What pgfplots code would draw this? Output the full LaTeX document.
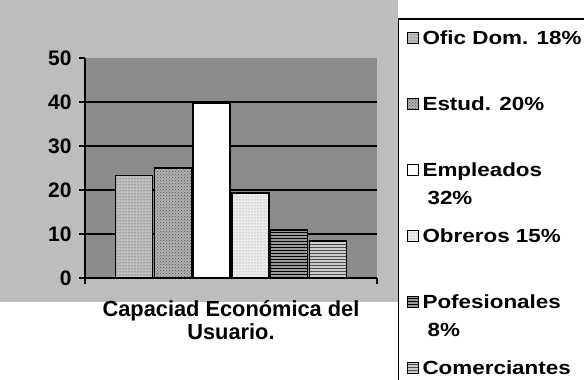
\documentclass[border=0pt]{standalone}
\usepackage{fontspec}
\setmainfont{Liberation Sans}
\newfontfamily\legfont[FakeStretch=1.18]{Liberation Sans}
\usepackage{pgfplots}
\pgfplotsset{compat=1.18}
\usetikzlibrary{patterns}

\begin{document}
\begin{tikzpicture}
\path[use as bounding box] (0,0) rectangle (584pt,380pt);
\fill[black!26] (0,78pt) rectangle (398pt,380pt);
\begin{axis}[
  at={(85pt,102pt)}, anchor=south west,
  scale only axis, width=292pt, height=220pt,
  xmin=-1, xmax=1, ymin=0, ymax=50,
  ybar=1.8pt, bar width=37pt,
  axis x line=bottom, axis y line=left,
  axis line style={-, line width=1.5pt, black},
  ytick={0,10,...,50},
  xtick={-1,1}, xticklabels={},
  tick align=outside, major tick length=6pt,
  tick style={line width=1.5pt, black},
  extra y ticks={10,20,30,40}, extra y tick labels={},
  extra y tick style={grid=major, major tick length=0pt},
  grid style={line width=1.5pt, black},
  axis background/.style={fill=black!45},
  /pgf/number format/assume math mode=true,
  yticklabel style={font=\bfseries\fontsize{21}{21}\selectfont, xshift=-4pt},
  xlabel={\begin{tabular}[t]{@{}c@{}}Capaciad Económica del\\Usuario.\end{tabular}},
  xlabel style={at={(axis description cs:0.5,0)}, anchor=base, yshift=-39pt, inner sep=0pt, font=\bfseries\fontsize{21.8}{21.7}\selectfont},
  legend style={at={(1.0719,1.1818)}, anchor=north west, draw=black, line width=1.5pt, fill=white,
    inner xsep=8pt, inner ysep=12pt, row sep=48pt, column sep=4pt,
    font=\legfont\bfseries\fontsize{19}{28}\selectfont,
    nodes={inner sep=0pt, text height=14pt, text depth=4pt, anchor=base west}},
  legend cell align=left,
  legend image code/.code={\draw[#1, line width=0.8pt] (0pt,1pt) rectangle (11pt,12pt);},
]
\addplot[draw=black, line width=1.5pt, fill=black!25, postaction={pattern=dots, pattern color=black!80}] coordinates {(0,23.3)};
\addplot[draw=black, line width=1.5pt, fill=black!30, postaction={pattern=crosshatch dots, pattern color=black!70}] coordinates {(0,25.0)};
\addplot[draw=black, line width=1.5pt, fill=white] coordinates {(0,39.8)};
\addplot[draw=black, line width=1.5pt, fill=black!8, postaction={pattern=dots, pattern color=black!45}] coordinates {(0,19.3)};
\addplot[draw=black, line width=1.5pt, fill=black!40, postaction={pattern=horizontal lines, pattern color=black}] coordinates {(0,10.9)};
\addplot[draw=black, line width=1.5pt, fill=black!20, postaction={pattern=horizontal lines, pattern color=black!70}] coordinates {(0,8.4)};
\addlegendentry{Ofic Dom. 18\%}
\addlegendentry{Estud. 20\%}
\addlegendentry{\smash{\begin{tabular}[t]{@{}l@{}}Empleados\\\hspace*{5pt}32\%\end{tabular}}}
\addlegendentry{Obreros 15\%}
\addlegendentry{\smash{\begin{tabular}[t]{@{}l@{}}Pofesionales\\\hspace*{5pt}8\%\end{tabular}}}
\addlegendentry{Comerciantes}
\end{axis}
\end{tikzpicture}
\end{document}
